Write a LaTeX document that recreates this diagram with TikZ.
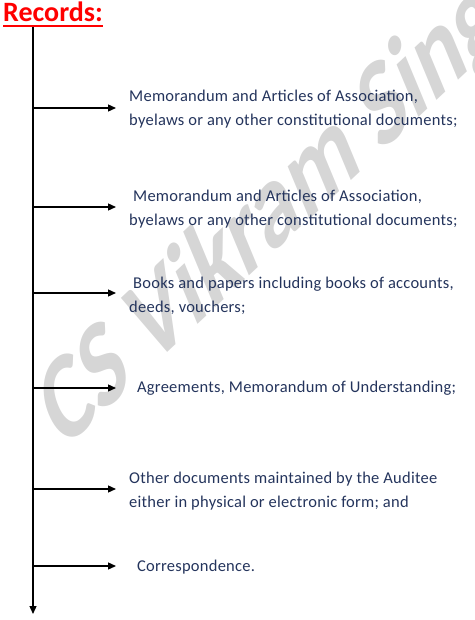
\documentclass[tikz,border=0pt]{standalone}
\usepackage{fontspec}
\setmainfont{Carlito}
\usetikzlibrary{arrows.meta,positioning}
\definecolor{navy}{RGB}{36,52,92}
\definecolor{wmgray}{RGB}{214,214,214}
\tikzset{
    title/.style =  {text=red,
                    font=\fontsize{28}{32}\selectfont\bfseries,
                    inner sep=0pt},
    item/.style =   {text=navy,
                    font=\fontsize{16.5}{24}\selectfont\addfontfeatures{LetterSpace=1.5},
                    align=left,
                    anchor=west,
                    inner sep=0pt},
    watermark/.style = {text=wmgray,
                    font=\fontsize{85}{85}\selectfont\bfseries,
                    inner sep=0pt},
    >={Triangle[length=8pt,width=7pt]}}
\begin{document}
\begin{tikzpicture}[x=1pt,y=-1pt]
    \useasboundingbox (0,0) rectangle (474,620);
    % watermark behind everything
    \coordinate (wmc) at (291,197);
    \node[watermark, yscale=1.5, rotate=32] (wm) at (wmc) {CS Vikram Singh};
    % heading
    \node[title, anchor=base west] (records) at (3,22) {Records:};
    \draw[red, line width=1.8pt] ([yshift=-4pt]records.base west) -- ([yshift=-4pt]records.base east);
    % spine and branches
    \coordinate (top) at (33,27);
    \coordinate (bottom) at (33,614);
    \draw[line width=1.3pt,->] (top) -- (bottom);
    \foreach \y/\n in {108/1,207/2,293/3,388/4,489/5,566/6}{
        \coordinate (s\n) at (33,\y);
        \coordinate (e\n) at (116,\y);
    }
    \path[line width=1.3pt,->] (s1) edge (e1)
                               (s2) edge (e2)
                               (s3) edge (e3)
                               (s4) edge (e4)
                               (s5) edge (e5)
                               (s6) edge (e6);
    % items
    \node[item, right=13pt of e1, yshift=-1pt] (i1) {Memorandum and Articles of Association,\\byelaws or any other constitutional documents;};
    \node[item, right=13pt of e2, yshift=-2pt] (i2) {\ Memorandum and Articles of Association,\\byelaws or any other constitutional documents;};
    \node[item, right=13pt of e3, yshift=-3pt] (i3) {\ Books and papers including books of accounts,\\deeds, vouchers;};
    \node[item, right=13pt of e4] (i4) {\ \ Agreements, Memorandum of Understanding;};
    \node[item, right=13pt of e5, yshift=-2pt] (i5) {Other documents maintained by the Auditee\\either in physical or electronic form; and};
    \node[item, right=13pt of e6, yshift=-1pt] (i6) {\ \ Correspondence.};
\end{tikzpicture}
\end{document}
